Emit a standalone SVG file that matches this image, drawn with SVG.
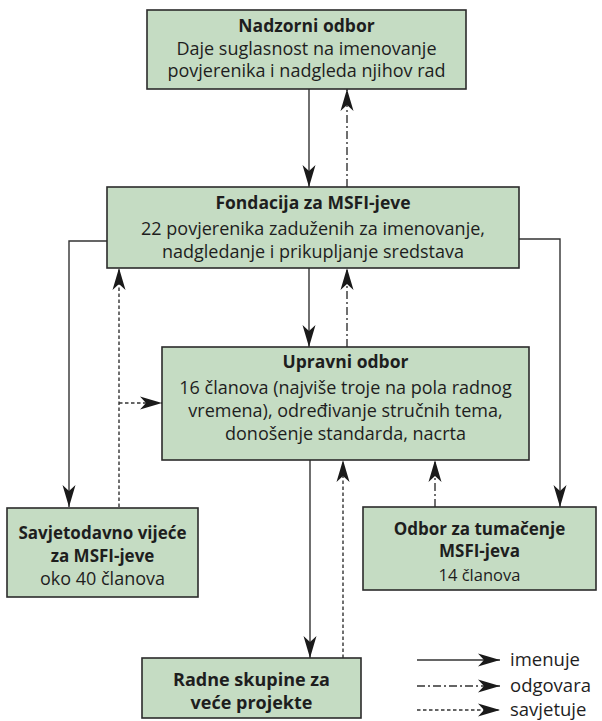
<svg xmlns="http://www.w3.org/2000/svg" width="602" height="721" viewBox="0 0 602 721">
<style>
.box{fill:#c5dcc3;stroke:#2b2b2b;stroke-width:1.6}
text{font-family:"Open Sans","Noto Sans","DejaVu Sans",sans-serif;font-size:18px;fill:#1e1e1e;text-anchor:middle}
.b{font-weight:bold;font-size:17.5px}
.lg{text-anchor:start;font-size:18.5px}
.c{fill:none;stroke:#333;stroke-width:1.4}
.dd{stroke-dasharray:8 3 2 3}
.ds{stroke-dasharray:3.5 2.5}
</style>
<defs>
<marker id="ah" markerWidth="24" markerHeight="14" refX="22" refY="7" orient="auto" markerUnits="userSpaceOnUse">
<path d="M0,0.5 L22,7 L0,13.5 L6,7 Z" fill="#1a1a1a"/>
</marker>
</defs>
<g id="connectors">
<path class="c" d="M309,89 V187" marker-end="url(#ah)"/>
<path class="c dd" d="M347,187 V89" marker-end="url(#ah)"/>
<path class="c" d="M309,268 V347" marker-end="url(#ah)"/>
<path class="c dd" d="M347,347 V268" marker-end="url(#ah)"/>
<path class="c" d="M107,241 H69 V507" marker-end="url(#ah)"/>
<path class="c ds" d="M119,507 V268" marker-end="url(#ah)"/>
<path class="c ds" d="M119,403 H162" marker-end="url(#ah)"/>
<path class="c" d="M519,239 H560 V507" marker-end="url(#ah)"/>
<path class="c dd" d="M435,507 V460" marker-end="url(#ah)"/>
<path class="c" d="M310,460 V658" marker-end="url(#ah)"/>
<path class="c ds" d="M343,658 V460" marker-end="url(#ah)"/>
</g>
<g id="nadzorni">
<rect class="box" x="147" y="10" width="319" height="79"/>
<text class="b" x="306.5" y="32">Nadzorni odbor</text>
<text x="306.5" y="55">Daje suglasnost na imenovanje</text>
<text x="306.5" y="77">povjerenika i nadgleda njihov rad</text>
</g>
<g id="fondacija">
<rect class="box" x="107" y="187" width="412" height="81"/>
<text class="b" x="313" y="209">Fondacija za MSFI-jeve</text>
<text x="313" y="235">22 povjerenika zaduženih za imenovanje,</text>
<text x="313" y="258">nadgledanje i prikupljanje sredstava</text>
</g>
<g id="upravni">
<rect class="box" x="162" y="347" width="367" height="113"/>
<text class="b" x="345.5" y="368">Upravni odbor</text>
<text x="345.5" y="394">16 članova (najviše troje na pola radnog</text>
<text x="345.5" y="417">vremena), određivanje stručnih tema,</text>
<text x="345.5" y="440">donošenje standarda, nacrta</text>
</g>
<g id="savjetodavno">
<rect class="box" x="7" y="508" width="191" height="89"/>
<text class="b" x="102.5" y="539" style="font-size:17px">Savjetodavno vijeće</text>
<text class="b" x="102.5" y="562" style="font-size:17px">za MSFI-jeve</text>
<text x="102.5" y="585">oko 40 članova</text>
</g>
<g id="tumacenje">
<rect class="box" x="363" y="507" width="233" height="83"/>
<text class="b" x="479.5" y="535" style="font-size:17px">Odbor za tumačenje</text>
<text class="b" x="479.5" y="557" style="font-size:17px">MSFI-jeva</text>
<text x="479.5" y="581" style="font-size:16.5px">14 članova</text>
</g>
<g id="radne">
<rect class="box" x="142" y="658" width="219" height="60"/>
<text class="b" x="251.5" y="686" style="font-size:18px">Radne skupine za</text>
<text class="b" x="251.5" y="709" style="font-size:18px">veće projekte</text>
</g>
<g id="legend">
<path class="c" d="M417,660 H500" marker-end="url(#ah)"/>
<path class="c dd" d="M417,686 H500" marker-end="url(#ah)"/>
<path class="c ds" d="M417,710 H500" marker-end="url(#ah)"/>
<text class="lg" x="510" y="666">imenuje</text>
<text class="lg" x="510" y="692">odgovara</text>
<text class="lg" x="510" y="716">savjetuje</text>
</g>
</svg>
